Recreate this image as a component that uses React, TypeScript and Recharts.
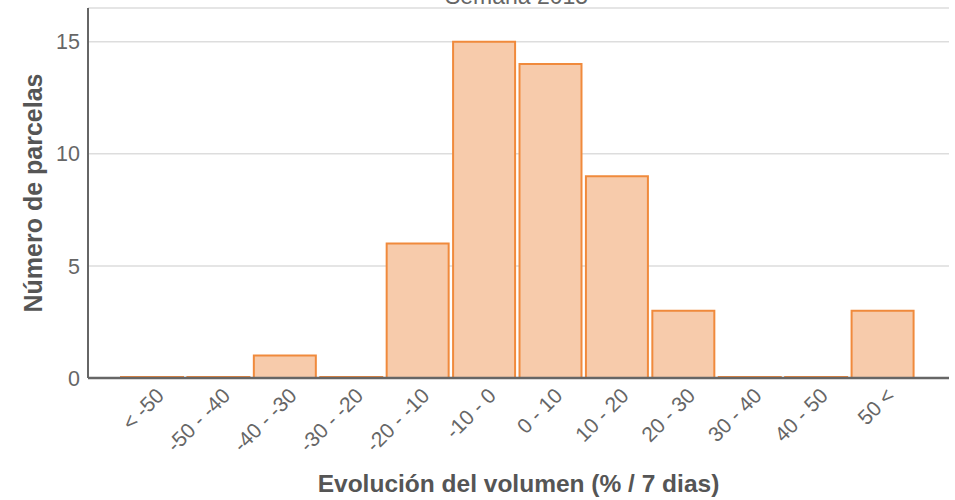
import React from 'react';
import { BarChart, Bar, XAxis, YAxis, CartesianGrid } from 'recharts';

const categories = ['< -50', '-50 - -40', '-40 - -30', '-30 - -20', '-20 - -10', '-10 - 0', '0 - 10', '10 - 20', '20 - 30', '30 - 40', '40 - 50', '50 <'];
const counts = [0, 0, 1, 0, 6, 15, 14, 9, 3, 0, 0, 3];
const yTicks = [0, 5, 10, 15];
const titleText = 'Semana 2015';
const xLabel = 'Evolución del volumen (% / 7 dias)';
const yLabel = 'Número de parcelas';

const data = categories.map((c, i) => ({ cat: c, value: counts[i] }));

const FONT = '"Liberation Sans", Arial, sans-serif';

const XTick = (props: any) => {
  const { x, y, payload } = props;
  return (
    <g transform={`translate(${x + 13},${y + 19}) rotate(-45)`}>
      <text x={0} y={0} textAnchor="end" fill="#666" fontSize={21} fontFamily={FONT}>
        {payload.value}
      </text>
    </g>
  );
};

export default function App() {
  return (
    <div style={{ position: 'absolute', left: 0, top: 0, width: 955, height: 500, background: '#fff' }}>
      <BarChart
        width={955}
        height={500}
        data={data}
        margin={{ top: 8, right: 6, left: 0, bottom: 0 }}
        barCategoryGap={2}
      >
        <CartesianGrid vertical={false} stroke="#dddddd" strokeWidth={1.5} />
        <XAxis
          dataKey="cat"
          interval={0}
          height={122}
          tickLine={false}
          tickSize={0}
          tickMargin={0}
          tick={<XTick />}
          axisLine={{ stroke: '#666', strokeWidth: 2.5 }}
          padding={{ left: 31, right: 33 }}
          label={{
            content: (p: any) => {
              const vb = p.viewBox;
              const cx = vb.x + vb.width / 2;
              return (
                <g>
                  <text x={cx} y={492} textAnchor="middle" fill="#555" fontSize={24.5} fontWeight="bold" fontFamily={FONT}>
                    {xLabel}
                  </text>
                  <text x={cx - 2} y={4} textAnchor="middle" fill="#666" fontSize={23} fontFamily={FONT}>
                    {titleText}
                  </text>
                </g>
              );
            },
          }}
        />
        <XAxis
          xAxisId="top"
          dataKey="cat"
          orientation="top"
          height={0}
          tick={false}
          tickLine={false}
          axisLine={{ stroke: '#666', strokeWidth: 2 }}
          padding={{ left: 31, right: 33 }}
        />
        <YAxis
          width={88}
          domain={[0, 16.5]}
          ticks={yTicks}
          allowDataOverflow
          tickLine={false}
          tickSize={0}
          tickMargin={8}
          tick={{ fill: '#666', fontSize: 21.5, fontFamily: FONT }}
          axisLine={{ stroke: '#666', strokeWidth: 2 }}
          label={{
            content: (p: any) => {
              const vb = p.viewBox;
              const cy = vb.y + vb.height / 2;
              return (
                <text x={33} y={cy} transform={`rotate(-90, 33, ${cy})`} textAnchor="middle" dominantBaseline="central" fill="#555" fontSize={25} fontWeight="bold" fontFamily={FONT}>
                  {yLabel}
                </text>
              );
            },
          }}
        />
        <YAxis
          yAxisId="right"
          orientation="right"
          width={0}
          tick={false}
          tickLine={false}
          axisLine={{ stroke: '#666', strokeWidth: 2 }}
        />
        <Bar
          dataKey="value"
          fill="#f7cbab"
          stroke="#f08a3c"
          strokeWidth={2}
          minPointSize={1}
          isAnimationActive={false}
        />
      </BarChart>
    </div>
  );
}
